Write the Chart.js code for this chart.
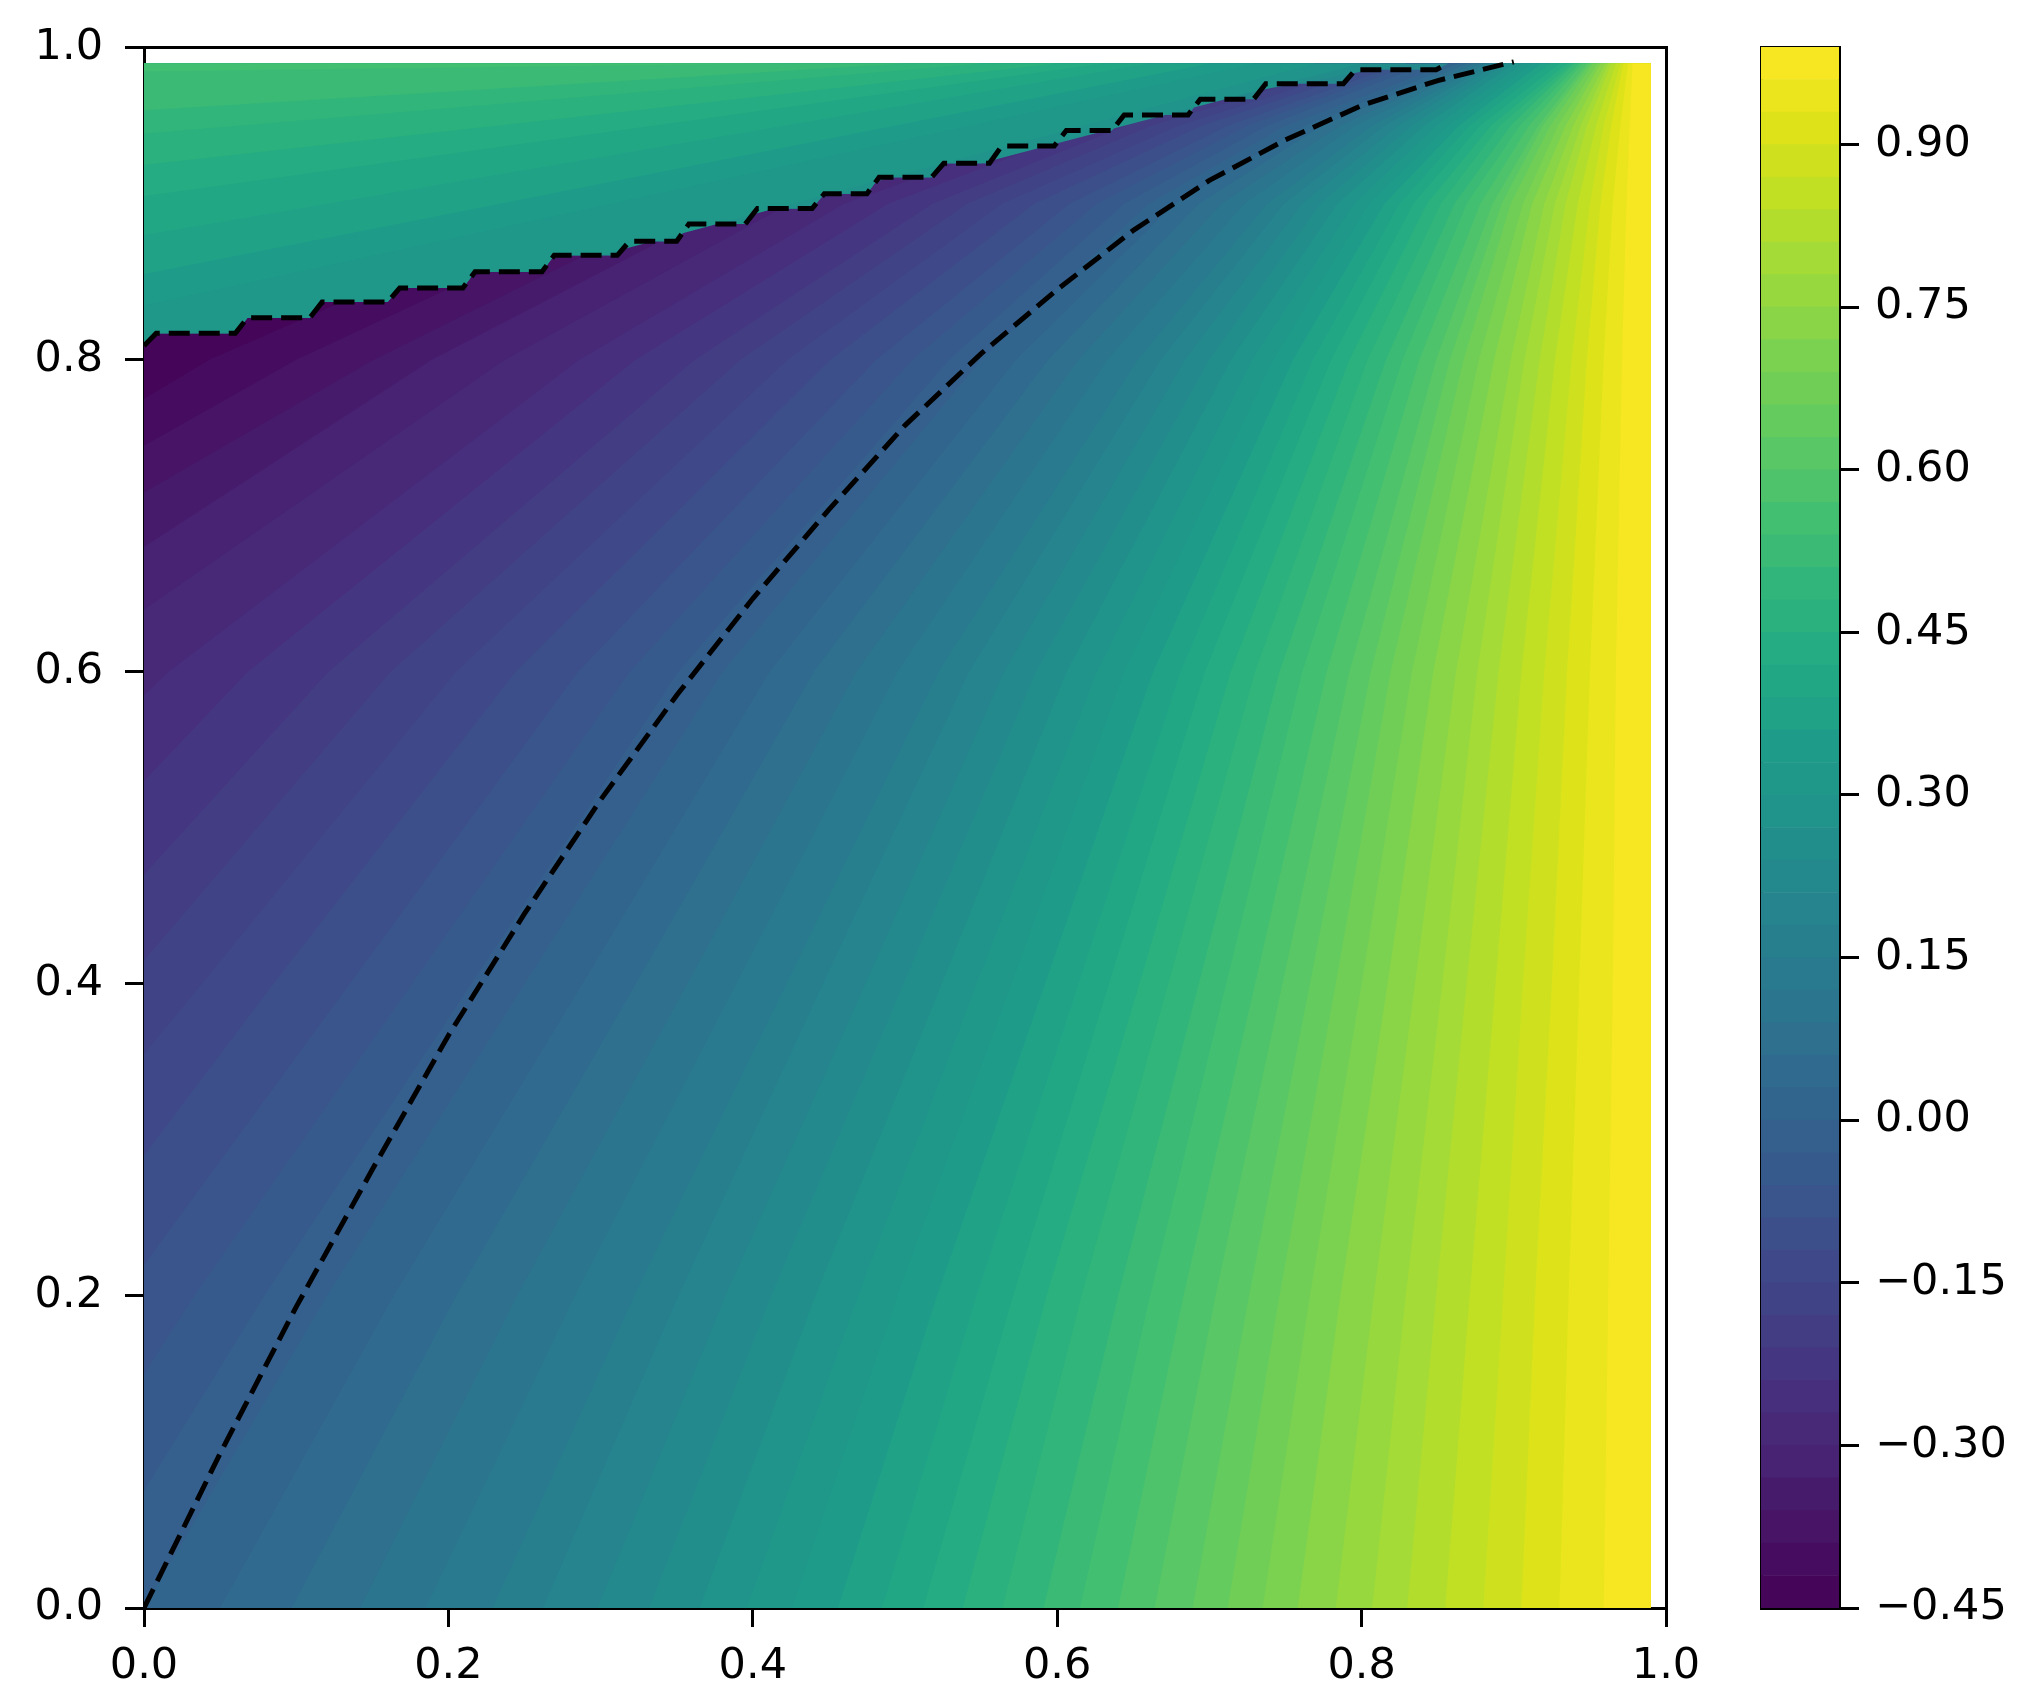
<!DOCTYPE html>
<html><head><meta charset="utf-8">
<script src="https://cdn.jsdelivr.net/npm/chart.js@4.4.1/dist/chart.umd.min.js"></script>
<style>
html,body{margin:0;padding:0;background:#fff;}
#wrap{position:relative;width:2038px;height:1703px;overflow:hidden;}
#main{position:absolute;left:0;top:0;width:1760px;height:1703px;}
#cbar{position:absolute;left:1700px;top:0;width:338px;height:1703px;}
</style></head><body>
<div id="wrap">
<canvas id="main" width="1760" height="1703"></canvas>
<canvas id="cbar" width="338" height="1703"></canvas>
</div>
<script>
// ---------------- data ----------------
// contour levels of the filled contour plot (colour bar bands)
const LEVELS = [-0.45,-0.42,-0.39,-0.36,-0.33,-0.30,-0.27,-0.24,-0.21,-0.18,-0.15,-0.12,-0.09,-0.06,-0.03,
  0.00,0.03,0.06,0.09,0.12,0.15,0.18,0.21,0.24,0.27,0.30,0.33,0.36,0.39,0.42,0.45,0.48,0.51,0.54,0.57,
  0.60,0.63,0.66,0.69,0.72,0.75,0.78,0.81,0.84,0.87,0.90,0.93,0.96,0.99];
const CB_TICKS = [-0.45,-0.30,-0.15,0.00,0.15,0.30,0.45,0.60,0.75,0.90];
const X_TICKS = [0.0,0.2,0.4,0.6,0.8,1.0];
const Y_TICKS = [0.0,0.2,0.4,0.6,0.8,1.0];
const GRID_MAX = 0.99;            // last sampled x / y value of the field

// lower region: contour lines of levels -0.42 ... 0.96 (same order as LEVELS[1..47])
// y where a contour leaves the left edge (null = it starts on the bottom edge)
const LEFT_EDGE_Y = [0.775,0.745,0.715,0.68,0.64,0.585,0.53,0.47,0.415,0.355,0.29,0.22,0.15,0.075,
  null,null,null,null,null,null,null,null,null,null,null,null,null,null,null,null,null,
  null,null,null,null,null,null,null,null,null,null,null,null,null,null,null,null];
// x where each contour crosses the horizontal rows of ROW_Y
const ROW_Y = [0, 0.2, 0.4, 0.6, 0.8, 0.9, 0.95, 0.99];
const X_AT_Y000 = [null,null,null,null,null,null,null,null,null,null,null,null,null,null,
  0,0.050,0.097,0.142,0.185,0.229,0.262,0.298,0.332,0.365,0.396,0.426,0.456,0.485,0.512,0.538,0.564,
  0.591,0.615,0.640,0.664,0.689,0.712,0.735,0.758,0.783,0.807,0.830,0.855,0.880,0.905,0.930,0.959];
const X_AT_Y020 = [null,null,null,null,null,null,null,null,null,null,null,null,0.033,0.079,
  0.12,0.164,0.205,0.245,0.283,0.322,0.351,0.382,0.412,0.441,0.469,0.495,0.521,0.547,0.571,0.593,0.616,
  0.640,0.661,0.683,0.704,0.726,0.746,0.766,0.786,0.808,0.829,0.849,0.871,0.893,0.914,0.936,0.962];
const X_AT_Y040 = [null,null,null,null,null,null,null,null,null,0.038,0.085,0.135,0.176,0.215,
  0.25,0.288,0.323,0.357,0.389,0.422,0.446,0.474,0.499,0.524,0.547,0.570,0.592,0.614,0.634,0.654,0.673,
  0.693,0.711,0.730,0.748,0.766,0.783,0.800,0.817,0.835,0.853,0.869,0.888,0.906,0.925,0.943,0.965];
const X_AT_Y060 = [null,null,null,null,null,0.016,0.068,0.121,0.162,0.205,0.244,0.285,0.319,0.351,
  0.38,0.411,0.44,0.468,0.495,0.522,0.542,0.565,0.586,0.606,0.626,0.644,0.663,0.681,0.697,0.714,0.730,
  0.746,0.761,0.777,0.792,0.806,0.819,0.833,0.847,0.862,0.876,0.890,0.905,0.920,0.935,0.950,0.967];
const X_AT_Y080 = [0.043,0.10,0.151,0.189,0.237,0.286,0.323,0.362,0.392,0.423,0.451,0.481,0.505,0.529,
  0.55,0.573,0.594,0.614,0.633,0.653,0.668,0.684,0.700,0.714,0.728,0.742,0.755,0.768,0.780,0.792,0.804,
  0.816,0.827,0.838,0.849,0.858,0.867,0.877,0.887,0.898,0.907,0.917,0.927,0.938,0.948,0.959,0.971];
const X_AT_Y090 = [0.277,0.32,0.358,0.387,0.424,0.46,0.489,0.518,0.541,0.564,0.585,0.608,0.626,0.644,
  0.66,0.677,0.693,0.708,0.723,0.738,0.749,0.761,0.773,0.784,0.795,0.805,0.815,0.825,0.834,0.843,0.852,
  0.861,0.869,0.878,0.886,0.892,0.898,0.906,0.912,0.920,0.927,0.934,0.942,0.950,0.957,0.965,0.974];
const X_AT_Y095 = [0.468,0.50,0.528,0.55,0.576,0.603,0.624,0.645,0.662,0.68,0.695,0.712,0.725,0.738,
  0.75,0.763,0.774,0.786,0.796,0.807,0.815,0.824,0.833,0.841,0.849,0.857,0.864,0.871,0.878,0.885,0.891,
  0.898,0.904,0.910,0.916,0.919,0.924,0.929,0.934,0.939,0.944,0.948,0.954,0.959,0.964,0.970,0.976];
const X_AT_Y099 = [0.681,0.70,0.717,0.73,0.746,0.762,0.774,0.787,0.797,0.808,0.817,0.827,0.835,0.843,
  0.858,0.864,0.869,0.874,0.878,0.882,0.886,0.890,0.895,0.900,0.906,0.912,0.918,0.924,0.930,0.935,0.938,
  0.940,0.943,0.945,0.948,0.950,0.952,0.955,0.957,0.960,0.962,0.964,0.967,0.970,0.972,0.975,0.978];

// staircase boundary (discontinuity) : riser x positions and flat y levels
const STAIR_START_Y = 0.809;
const STAIR_STEP_X = [0.064,0.113,0.164,0.2135,0.2655,0.315,0.354,0.399,0.443,0.479,0.5215,0.5595,
  0.602,0.64,0.69,0.733,0.792,0.853];
const STAIR_FLAT_Y = [0.817,0.827,0.837,0.846,0.8565,0.867,0.876,0.887,0.897,0.9065,0.917,0.926,
  0.937,0.947,0.957,0.967,0.977,0.986];

// upper region (above the staircase): contour lines
const UPPER_BASE_LEVEL = 0.21;
const UPPER_LEVELS  = [0.24,0.27,0.30,0.33,0.36,0.39,0.42,0.45,0.48,0.51,0.54];
const UPPER_STAIR_X = [0.70,0.55,0.30,null,null,null,null,null,null,null,null];  // start on staircase
const UPPER_LEFT_Y  = [null,null,null,0.835,0.855,0.88,0.905,0.925,0.945,0.96,0.985]; // start on left edge
const UPPER_TOP_X   = [0.83,0.80,0.77,0.73,0.70,0.66,0.63,0.60,0.55,0.50,0.42];

// dashed reference curve
const CURVE_X = [0,0.05,0.1,0.15,0.2,0.25,0.3,0.35,0.4,0.45,0.5,0.55,0.6,0.65,0.7,0.75,0.8,0.85,0.9];
const CURVE_Y = [0,0.099,0.193,0.281,0.367,0.445,0.518,0.585,0.647,0.704,0.758,0.804,0.845,0.883,
  0.915,0.941,0.963,0.979,0.991];

// ---------------- styling helpers ----------------
const VIRIDIS = ['#440154','#471365','#482475','#463480','#414487','#3b528b','#355f8d','#2f6c8e',
  '#2a788e','#25848e','#21918c','#1e9c89','#22a884','#2fb47c','#44bf70','#5ec962','#7ad151',
  '#9bd93c','#bddf26','#dfe318','#fde725'];
function hexRgb(h){return [parseInt(h.substr(1,2),16),parseInt(h.substr(3,2),16),parseInt(h.substr(5,2),16)];}
function viridis(t){
  t=Math.max(0,Math.min(1,t));
  const n=VIRIDIS.length-1, f=t*n, i=Math.min(n-1,Math.floor(f)), u=f-i;
  const a=hexRgb(VIRIDIS[i]), b=hexRgb(VIRIDIS[i+1]);
  return 'rgb('+a.map((v,k)=>Math.round(v+(b[k]-v)*u)).join(',')+')';
}
const VMIN = LEVELS[0], VMAX = LEVELS[LEVELS.length-1];
function bandColor(lo){
  const idx = LEVELS.findIndex(l=>Math.abs(l-lo)<1e-9);
  const hi = LEVELS[idx+1];
  return viridis(((lo+hi)/2 - VMIN)/(VMAX-VMIN));
}
const FONT = {family:'DejaVu Sans', size:43};
const LINE_W = 3;

// ---------------- geometry built from the data ----------------
const X_ROWS = [X_AT_Y000,X_AT_Y020,X_AT_Y040,X_AT_Y060,X_AT_Y080,X_AT_Y090,X_AT_Y095,X_AT_Y099];
const LOWER_LEVELS = LEVELS.slice(1, LEVELS.length-1);
const RISER = 0.004;

function stairPoints(){
  const pts=[{x:0,y:STAIR_START_Y}];
  for(let k=0;k<STAIR_FLAT_Y.length;k++){
    const xs = k===0 ? 2*RISER : STAIR_STEP_X[k-1]+RISER;
    pts.push({x:xs,y:STAIR_FLAT_Y[k]});
    pts.push({x:STAIR_STEP_X[k]-RISER,y:STAIR_FLAT_Y[k]});
  }
  pts.push({x:STAIR_STEP_X[STAIR_STEP_X.length-1]+RISER,y:GRID_MAX});
  return pts;
}
const STAIR = stairPoints();
function stairY(x){
  for(let k=0;k<STAIR_STEP_X.length;k++){ if(x<STAIR_STEP_X[k]) return STAIR_FLAT_Y[k]; }
  return GRID_MAX;
}

function polyDataset(points,color){
  return {type:'scatter',data:points,showLine:true,fill:'shape',backgroundColor:color,
    borderWidth:0,borderColor:'rgba(0,0,0,0)',pointRadius:0,pointHoverRadius:0,tension:0};
}

const paint = [];
// whole field in the lowest band colour
paint.push(polyDataset([{x:0,y:0},{x:GRID_MAX,y:0},{x:GRID_MAX,y:GRID_MAX},{x:0,y:GRID_MAX}],bandColor(LEVELS[0])));
// region on the high side of each lower contour
LOWER_LEVELS.forEach((lv,i)=>{
  const pts=[];
  const ys=LEFT_EDGE_Y[i];
  if(ys!==null) pts.push({x:0,y:ys});
  ROW_Y.forEach((ry,r)=>{ const x=X_ROWS[r][i]; if(x!==null) pts.push({x:Math.min(x,GRID_MAX),y:ry}); });
  pts.push({x:GRID_MAX,y:GRID_MAX},{x:GRID_MAX,y:0});
  if(ys!==null) pts.push({x:0,y:0});
  paint.push(polyDataset(pts,bandColor(lv)));
});
// upper region base
paint.push(polyDataset(STAIR.concat([{x:0,y:GRID_MAX}]),bandColor(UPPER_BASE_LEVEL)));
UPPER_LEVELS.forEach((lv,j)=>{
  let pts;
  const top={x:UPPER_TOP_X[j],y:GRID_MAX};
  if(UPPER_LEFT_Y[j]!==null){
    pts=[{x:0,y:UPPER_LEFT_Y[j]},top,{x:0,y:GRID_MAX}];
  } else {
    const xs=UPPER_STAIR_X[j];
    pts=[{x:xs,y:stairY(xs)},top,{x:0,y:GRID_MAX}].concat(STAIR.filter(p=>p.x<xs));
  }
  paint.push(polyDataset(pts,bandColor(lv)));
});
// dashed lines
const dashStyle={type:'scatter',showLine:true,fill:false,borderColor:'#000',borderWidth:5,
  borderDash:[21,9],pointRadius:0,pointHoverRadius:0,tension:0};
paint.push(Object.assign({},dashStyle,{data:STAIR}));
paint.push(Object.assign({},dashStyle,{data:CURVE_X.map((x,i)=>({x:x,y:CURVE_Y[i]}))}));
paint.forEach((d,i)=>{ d.order = paint.length - i; });

function tickAxis(pos,ticks,fit){
  return {type:'linear',position:pos,min:0,max:1,
    afterBuildTicks:s=>{s.ticks=ticks.map(v=>({value:v}));},
    afterFit:fit,
    ticks:{color:'#000',font:FONT,padding:pos==='left'?22:14,maxRotation:0,autoSkip:false,
      callback:v=>Number(v).toFixed(1)},
    grid:{display:true,drawOnChartArea:false,drawTicks:true,tickLength:19,tickWidth:LINE_W,
      tickColor:'#000',color:'#000',lineWidth:LINE_W},
    border:{display:true,color:'#000',width:LINE_W}};
}
function frameAxis(pos,fit){
  return {type:'linear',position:pos,min:0,max:1,afterFit:fit,
    ticks:{display:false},grid:{display:false,drawTicks:false,lineWidth:LINE_W},
    border:{display:true,color:'#000',width:LINE_W}};
}

new Chart(document.getElementById('main'),{
  type:'scatter',
  data:{datasets:paint},
  options:{responsive:false,animation:false,devicePixelRatio:1,events:[],
    layout:{padding:0},
    plugins:{legend:{display:false},tooltip:{enabled:false}},
    scales:{
      x:tickAxis('bottom',X_TICKS,s=>{s.height=95;}),
      y:tickAxis('left',Y_TICKS,s=>{s.width=144;}),
      xTop:frameAxis('top',s=>{s.height=47;}),
      yRight:frameAxis('right',s=>{s.width=94;})
    }}
});

// ---------------- colour bar ----------------
const cbDatasets = LEVELS.slice(0,LEVELS.length-1).map((lo,i)=>({
  data:[[lo,LEVELS[i+1]]],backgroundColor:bandColor(lo),borderWidth:0,
  barPercentage:1,categoryPercentage:1,grouped:false}));
new Chart(document.getElementById('cbar'),{
  type:'bar',
  data:{labels:['cb'],datasets:cbDatasets},
  options:{responsive:false,animation:false,devicePixelRatio:1,events:[],
    layout:{padding:0},
    plugins:{legend:{display:false},tooltip:{enabled:false}},
    scales:{
      x:{type:'category',position:'bottom',afterFit:s=>{s.height=95;},
        ticks:{display:false},grid:{display:false,drawTicks:false,lineWidth:LINE_W},
        border:{display:true,color:'#000',width:LINE_W}},
      xTop:{type:'category',position:'top',labels:['cb'],afterFit:s=>{s.height=47;},
        ticks:{display:false},grid:{display:false,drawTicks:false,lineWidth:LINE_W},
        border:{display:true,color:'#000',width:LINE_W}},
      yL:{type:'linear',position:'left',min:VMIN,max:VMAX,afterFit:s=>{s.width=61;},
        ticks:{display:false},grid:{display:false,drawTicks:false,lineWidth:LINE_W},
        border:{display:true,color:'#000',width:LINE_W}},
      y:{type:'linear',position:'right',min:VMIN,max:VMAX,afterFit:s=>{s.width=199;},
        afterBuildTicks:s=>{s.ticks=CB_TICKS.map(v=>({value:v}));},
        ticks:{color:'#000',font:FONT,padding:16,
          callback:v=>(v<0?'\u2212':'')+Math.abs(v).toFixed(2)},
        grid:{display:true,drawOnChartArea:false,drawTicks:true,tickLength:20,tickWidth:LINE_W,
          tickColor:'#000',color:'#000',lineWidth:LINE_W},
        border:{display:true,color:'#000',width:LINE_W}}
    }}
});
</script>
</body></html>
